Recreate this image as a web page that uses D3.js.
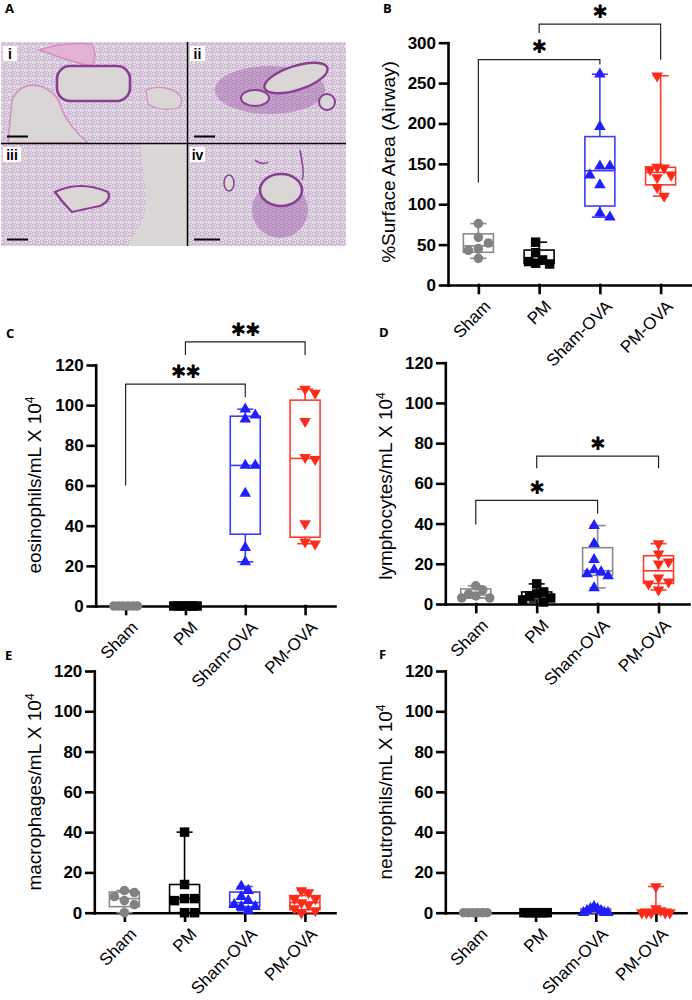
<!DOCTYPE html>
<html>
<head>
<meta charset="utf-8">
<script src="https://cdn.jsdelivr.net/npm/d3@7"></script>
<style>
  body { margin: 0; background: #fff; }
  svg text { font-family: "Liberation Sans", Arial, sans-serif; }
</style>
</head>
<body>
<div id="svg-container"></div>
<script>
// figure data
const groups = ["Sham", "PM", "Sham-OVA", "PM-OVA"];

const airwayArea = [
    [76, 59, 52, 45, 43, 33],
    [53, 40, 31, 29, 27, 26],
    [261, 196, 147, 147, 136, 124, 89, 84],
    [259, 146, 145, 143, 136, 133, 121, 110]
];
const eosinophils = [
    [0, 0, 0, 0, 0, 0],
    [0, 0, 0, 0, 0, 0],
    [98, 95, 93, 70, 70, 56, 29, 22],
    [108, 106, 92, 74, 73, 41, 32, 31]
];
const lymphocytes = [
    [9, 7, 5, 4, 3, 3],
    [10, 6, 5, 4, 3, 2, 1],
    [39, 30, 22, 17, 16, 15, 14, 8],
    [30, 25, 21, 20, 13, 11, 10, 7]
];
const macrophages = [
    [11, 10, 8, 6, 4, 0],
    [40, 14, 7, 7, 6, 0, 0],
    [13, 11, 8, 6, 4, 3, 3, 1],
    [11, 10, 7, 7, 5, 4, 2, 1, 0]
];
const neutrophils = [
    [0, 0, 0, 0, 0, 0],
    [0, 0, 0, 0, 0, 0],
    [3, 2, 2, 1, 1, 0, 0, 0],
    [13, 2, 1, 0, 0, 0, 0, 0]
];

const airwayTicks = [0, 50, 100, 150, 200, 250, 300];
const cellTicks = [0, 20, 40, 60, 80, 100, 120];

// significance brackets: groups compared, bar height, leg ends (data units)
const airwaySig = [
    { from: 0, to: 2, bar: 279, left: 127, right: 273, label: "*" },
    { from: 1, to: 3, bar: 323, left: 312, right: 279, label: "*" }
];
const eosinophilSig = [
    { from: 0, to: 2, bar: 110.5, left: 60, right: 104, label: "**" },
    { from: 1, to: 3, bar: 131.5, left: 125, right: 125, label: "**" }
];
const lymphocyteSig = [
    { from: 0, to: 2, bar: 51.5, left: 39.5, right: 45, label: "*" },
    { from: 1, to: 3, bar: 73.5, left: 67.5, right: 67.5, label: "*" }
];

// styles per group
const pointColors = ["#828282", "#000000", "#2020ff", "#ff2a1a"];
const boxColors = ["#8a8a8a", "#000000", "#3c3cff", "#ff3b2c"];
const symbols = [d3.symbolCircle, d3.symbolSquare, d3.symbolTriangle, d3.symbolTriangle];
const symbolSizes = [72, 90, 58, 58];
const FONT = "Liberation Sans, Arial, sans-serif";

const W = 692, H = 1000;
const svg = d3.select("#svg-container").append("svg")
    .attr("width", W)
    .attr("height", H);

// GraphPad style quartile ((n+1) method)
function quartile(sorted, p) {
    const n = sorted.length;
    const pos = (n + 1) * p;
    if (pos <= 1) return sorted[0];
    if (pos >= n) return sorted[n - 1];
    const lo = Math.floor(pos), f = pos - lo;
    return sorted[lo - 1] + f * (sorted[lo] - sorted[lo - 1]);
}

// simple beeswarm offsets in pixels
function swarm(ys, d, maxOff) {
    const order = ys.map((y, i) => i).sort((a, b) => ys[a] - ys[b]);
    const off = new Array(ys.length).fill(0);
    const placed = [];
    order.forEach(i => {
        for (let k = 0; k < 20; k++) {
            const o = k === 0 ? 0 : (k % 2 ? 1 : -1) * Math.ceil(k / 2) * d;
            const hit = placed.some(j => Math.hypot(off[j] - o, ys[j] - ys[i]) < d * 0.92);
            if (!hit) { off[i] = o; break; }
        }
        placed.push(i);
    });
    const mx = d3.max(off, o => Math.abs(o));
    if (mx > maxOff) {
        const s = maxOff / mx;
        for (let i = 0; i < off.length; i++) off[i] *= s;
        const shift = (d3.min(off) + d3.max(off)) / 2;
        for (let i = 0; i < off.length; i++) off[i] -= shift;
    }
    return off;
}

function panelLabel(text, x, y) {
    svg.append("text")
        .attr("x", x).attr("y", y)
        .style("font-family", "'Open Sans', sans-serif")
        .style("font-weight", "bold")
        .style("font-size", "13px")
        .text(text);
}

function buildBoxPlot(cfg) {
    const g = svg.append("g");

    const x = d3.scalePoint().domain(groups).range([cfg.x0, cfg.x1]).padding(0.5);
    const y = d3.scaleLinear().domain([0, cfg.max]).range([cfg.yBottom, cfg.yTop]);

    // y axis
    const yAxis = g.append("g")
        .attr("transform", `translate(${cfg.x0},0)`)
        .call(d3.axisLeft(y).tickValues(cfg.ticks).tickSize(8).tickSizeOuter(0).tickPadding(4))
        .attr("font-family", FONT)
        .attr("font-size", 17)
        .attr("font-weight", "bold");
    yAxis.selectAll("text").attr("fill", "#000");

    // x axis
    const xAxis = g.append("g")
        .attr("transform", `translate(0,${cfg.yBottom})`)
        .call(d3.axisBottom(x).tickSize(8).tickSizeOuter(0))
        .attr("font-family", FONT)
        .attr("font-size", 17);
    xAxis.selectAll("text")
        .attr("x", -7)
        .attr("y", 19)
        .attr("dy", "0.35em")
        .attr("transform", "rotate(-45)")
        .attr("text-anchor", "end")
        .attr("fill", "#000");

    g.selectAll(".domain, .tick line")
        .attr("stroke", "#000")
        .attr("stroke-width", 2.6)
        .attr("stroke-linecap", "square");

    // axis title
    const title = g.append("text")
        .attr("transform", `translate(${cfg.titleX},${cfg.titleY}) rotate(-90)`)
        .attr("dy", "0.35em")
        .style("text-anchor", "middle")
        .style("font-size", "19px")
        .text(cfg.title);
    if (cfg.sup) {
        title.append("tspan")
            .attr("dy", "-0.55em")
            .style("font-size", "12px")
            .text(cfg.sup);
    }

    const boxW = 30, capW = 16;

    // boxes and whiskers
    cfg.data.forEach((vals, i) => {
        const s = vals.slice().sort((a, b) => a - b);
        const q1 = quartile(s, 0.25), med = quartile(s, 0.5), q3 = quartile(s, 0.75);
        const lo = s[0], hi = s[s.length - 1];
        const cx = x(groups[i]);
        const col = (cfg.boxOverride && cfg.boxOverride[i]) || boxColors[i];
        const bg = g.append("g")
            .attr("stroke", col)
            .attr("stroke-width", 1.6)
            .attr("fill", "none");
        bg.append("line").attr("x1", cx).attr("x2", cx).attr("y1", y(hi)).attr("y2", y(q3));
        bg.append("line").attr("x1", cx).attr("x2", cx).attr("y1", y(q1)).attr("y2", y(lo));
        bg.append("line").attr("x1", cx - capW / 2).attr("x2", cx + capW / 2).attr("y1", y(hi)).attr("y2", y(hi));
        bg.append("line").attr("x1", cx - capW / 2).attr("x2", cx + capW / 2).attr("y1", y(lo)).attr("y2", y(lo));
        bg.append("rect")
            .attr("x", cx - boxW / 2).attr("width", boxW)
            .attr("y", y(q3)).attr("height", Math.max(0.5, y(q1) - y(q3)));
        bg.append("line").attr("x1", cx - boxW / 2).attr("x2", cx + boxW / 2).attr("y1", y(med)).attr("y2", y(med));
    });

    // points
    cfg.data.forEach((vals, i) => {
        const cx = x(groups[i]);
        const ys = vals.map(v => y(v));
        const offs = swarm(ys, 10, 14);
        g.append("g").selectAll("path")
            .data(vals)
            .enter()
            .append("path")
            .attr("d", d3.symbol().type(symbols[i]).size(symbolSizes[i]))
            .attr("transform", (d, k) => `translate(${cx + offs[k]},${ys[k]})` + (i === 3 ? " rotate(180)" : ""))
            .attr("fill", pointColors[i]);
    });

    // significance brackets
    (cfg.sig || []).forEach(b => {
        const xa = x(groups[b.from]), xb = x(groups[b.to]);
        g.append("path")
            .attr("d", `M${xa},${y(b.left)}V${y(b.bar)}H${xb}V${y(b.right)}`)
            .attr("fill", "none")
            .attr("stroke", "#222")
            .attr("stroke-width", 1.2);
        g.append("text")
            .attr("x", (xa + xb) / 2)
            .attr("y", y(b.bar) - 13)
            .attr("dy", "0.36em")
            .style("text-anchor", "middle")
            .style("font-family", "'DejaVu Sans', sans-serif")
            .style("font-weight", "bold")
            .style("font-size", "18.5px")
            .style("letter-spacing", "-1px")
            .text(b.label === "*" ? "\u2731" : "\u2731\u2731");
    });
}

// histology micrographs for panel A (drawn as a stylised texture)
function buildMicrographs() {
    const defs = svg.append("defs");
    const pat = defs.append("pattern")
        .attr("id", "alveoli")
        .attr("patternUnits", "userSpaceOnUse")
        .attr("width", 8).attr("height", 8);
    pat.append("rect").attr("width", 8).attr("height", 8).attr("fill", "#e2dce3");
    pat.append("circle").attr("cx", 2).attr("cy", 2).attr("r", 2.3)
        .attr("fill", "none").attr("stroke", "#b484c3").attr("stroke-width", 0.75);
    pat.append("circle").attr("cx", 6).attr("cy", 6).attr("r", 2.1)
        .attr("fill", "none").attr("stroke", "#c09ccb").attr("stroke-width", 0.65);
    pat.append("circle").attr("cx", 6.2).attr("cy", 1.6).attr("r", 0.6).attr("fill", "#8d4e9f");

    const quads = [
        { x: 1, y: 42, w: 187, h: 101, label: "i" },
        { x: 188, y: 42, w: 158, h: 101, label: "ii" },
        { x: 1, y: 143, w: 187, h: 103, label: "iii" },
        { x: 188, y: 143, w: 158, h: 103, label: "iv" }
    ];
    const g = svg.append("g");
    quads.forEach((q, i) => {
        defs.append("clipPath").attr("id", "clipq" + i)
            .append("rect").attr("x", q.x).attr("y", q.y).attr("width", q.w).attr("height", q.h);
        const qg = g.append("g").attr("clip-path", `url(#clipq${i})`);
        qg.append("rect").attr("x", q.x).attr("y", q.y).attr("width", q.w).attr("height", q.h)
            .attr("fill", "url(#alveoli)");

        const airway = "#dad6d6", wall = "#8a3d92", pink = "#d98ac2", dense = "#9d5ea9";
        if (i === 0) {
            qg.append("path").attr("d", "M8,143 L12,100 Q20,82 40,86 Q58,92 62,110 Q70,128 88,143 Z")
                .attr("fill", airway).attr("stroke", pink).attr("stroke-width", 1.5);
            qg.append("path").attr("d", "M40,50 Q60,42 92,44 Q98,56 92,66 Q70,62 40,50 Z")
                .attr("fill", "#e3b3d3").attr("stroke", pink).attr("stroke-width", 1.5);
            qg.append("rect").attr("x", 57).attr("y", 66).attr("width", 73).attr("height", 35).attr("rx", 13)
                .attr("fill", airway).attr("stroke", wall).attr("stroke-width", 2.6);
            qg.append("path").attr("d", "M146,90 Q160,84 176,92 Q186,100 178,108 Q160,112 148,104 Z")
                .attr("fill", airway).attr("stroke", pink).attr("stroke-width", 1.2);
        } else if (i === 1) {
            qg.append("ellipse").attr("cx", 270).attr("cy", 90).attr("rx", 55).attr("ry", 24)
                .attr("fill", dense).attr("opacity", 0.45);
            qg.append("ellipse").attr("cx", 296).attr("cy", 78).attr("rx", 33).attr("ry", 12)
                .attr("transform", "rotate(-18,296,78)")
                .attr("fill", airway).attr("stroke", wall).attr("stroke-width", 2.4);
            qg.append("ellipse").attr("cx", 255).attr("cy", 98).attr("rx", 14).attr("ry", 8)
                .attr("fill", airway).attr("stroke", wall).attr("stroke-width", 2);
            qg.append("circle").attr("cx", 327).attr("cy", 102).attr("r", 8)
                .attr("fill", airway).attr("stroke", wall).attr("stroke-width", 2);
        } else if (i === 2) {
            qg.append("path").attr("d", "M140,143 L188,143 L188,246 L128,246 Q150,215 146,190 Q142,165 140,143 Z")
                .attr("fill", "#dbd7d7");
            qg.append("path").attr("d", "M55,192 Q80,180 108,192 Q112,200 100,206 Q80,210 72,212 Q62,202 55,192 Z")
                .attr("fill", airway).attr("stroke", wall).attr("stroke-width", 2.2);
        } else {
            qg.append("ellipse").attr("cx", 280).attr("cy", 210).attr("rx", 28).attr("ry", 28)
                .attr("fill", dense).attr("opacity", 0.45);
            qg.append("ellipse").attr("cx", 281).attr("cy", 190).attr("rx", 21).attr("ry", 16)
                .attr("fill", airway).attr("stroke", wall).attr("stroke-width", 2.6);
            qg.append("ellipse").attr("cx", 229).attr("cy", 183).attr("rx", 5).attr("ry", 8)
                .attr("fill", airway).attr("stroke", wall).attr("stroke-width", 1.5);
            qg.append("path").attr("d", "M300,150 Q305,175 302,180 M255,160 Q262,166 268,162")
                .attr("fill", "none").attr("stroke", wall).attr("stroke-width", 1.5);
        }

        // roman numeral label
        const lw = q.label.length === 1 ? 14 : q.label.length === 2 ? 15 : 18;
        g.append("rect").attr("x", q.x + 2).attr("y", q.y + 4).attr("width", lw).attr("height", 15).attr("fill", "#fff");
        g.append("text").attr("x", q.x + 2 + lw / 2).attr("y", q.y + 16.5)
            .style("text-anchor", "middle").style("font-weight", "bold").style("font-size", "14px")
            .text(q.label);
        // scale bar
        g.append("line")
            .attr("x1", q.x + 6).attr("x2", q.x + (i === 3 ? 32 : 27))
            .attr("y1", q.y + q.h - 6.5).attr("y2", q.y + q.h - 6.5)
            .attr("stroke", "#000").attr("stroke-width", 2);
    });
    // dividers
    g.append("line").attr("x1", 187.5).attr("x2", 187.5).attr("y1", 42).attr("y2", 246).attr("stroke", "#000").attr("stroke-width", 1.5);
    g.append("line").attr("x1", 1).attr("x2", 346).attr("y1", 143.5).attr("y2", 143.5).attr("stroke", "#000").attr("stroke-width", 1.5);
}

buildMicrographs();

buildBoxPlot({ data: airwayArea, max: 300, ticks: airwayTicks, x0: 448, x1: 691, yTop: 42.7, yBottom: 285,
    title: "%Surface Area (Airway)", titleX: 388, titleY: 162, sig: airwaySig });
buildBoxPlot({ data: eosinophils, max: 120, ticks: cellTicks, x0: 95.7, x1: 335, yTop: 365, yBottom: 606,
    title: "eosinophils/mL X 10", sup: "4", titleX: 34, titleY: 485, sig: eosinophilSig });
buildBoxPlot({ data: lymphocytes, max: 120, ticks: cellTicks, x0: 445.3, x1: 689, yTop: 362.7, yBottom: 604,
    title: "lymphocytes/mL X 10", sup: "4", titleX: 385, titleY: 486, sig: lymphocyteSig,
    boxOverride: [null, null, "#8a8a8a", null] });
buildBoxPlot({ data: macrophages, max: 120, ticks: cellTicks, x0: 94.3, x1: 335, yTop: 671, yBottom: 912.7,
    title: "macrophages/mL X 10", sup: "4", titleX: 34, titleY: 792 });
buildBoxPlot({ data: neutrophils, max: 120, ticks: cellTicks, x0: 445.3, x1: 686, yTop: 671, yBottom: 912.7,
    title: "neutrophils/mL X 10", sup: "4", titleX: 385, titleY: 792,
    boxOverride: [null, null, "#8a8a8a", null] });

panelLabel("A", 5, 13);
panelLabel("B", 383, 13);
panelLabel("C", 6, 338);
panelLabel("D", 379, 337);
panelLabel("E", 5, 660);
panelLabel("F", 379, 659);
</script>
</body>
</html>
